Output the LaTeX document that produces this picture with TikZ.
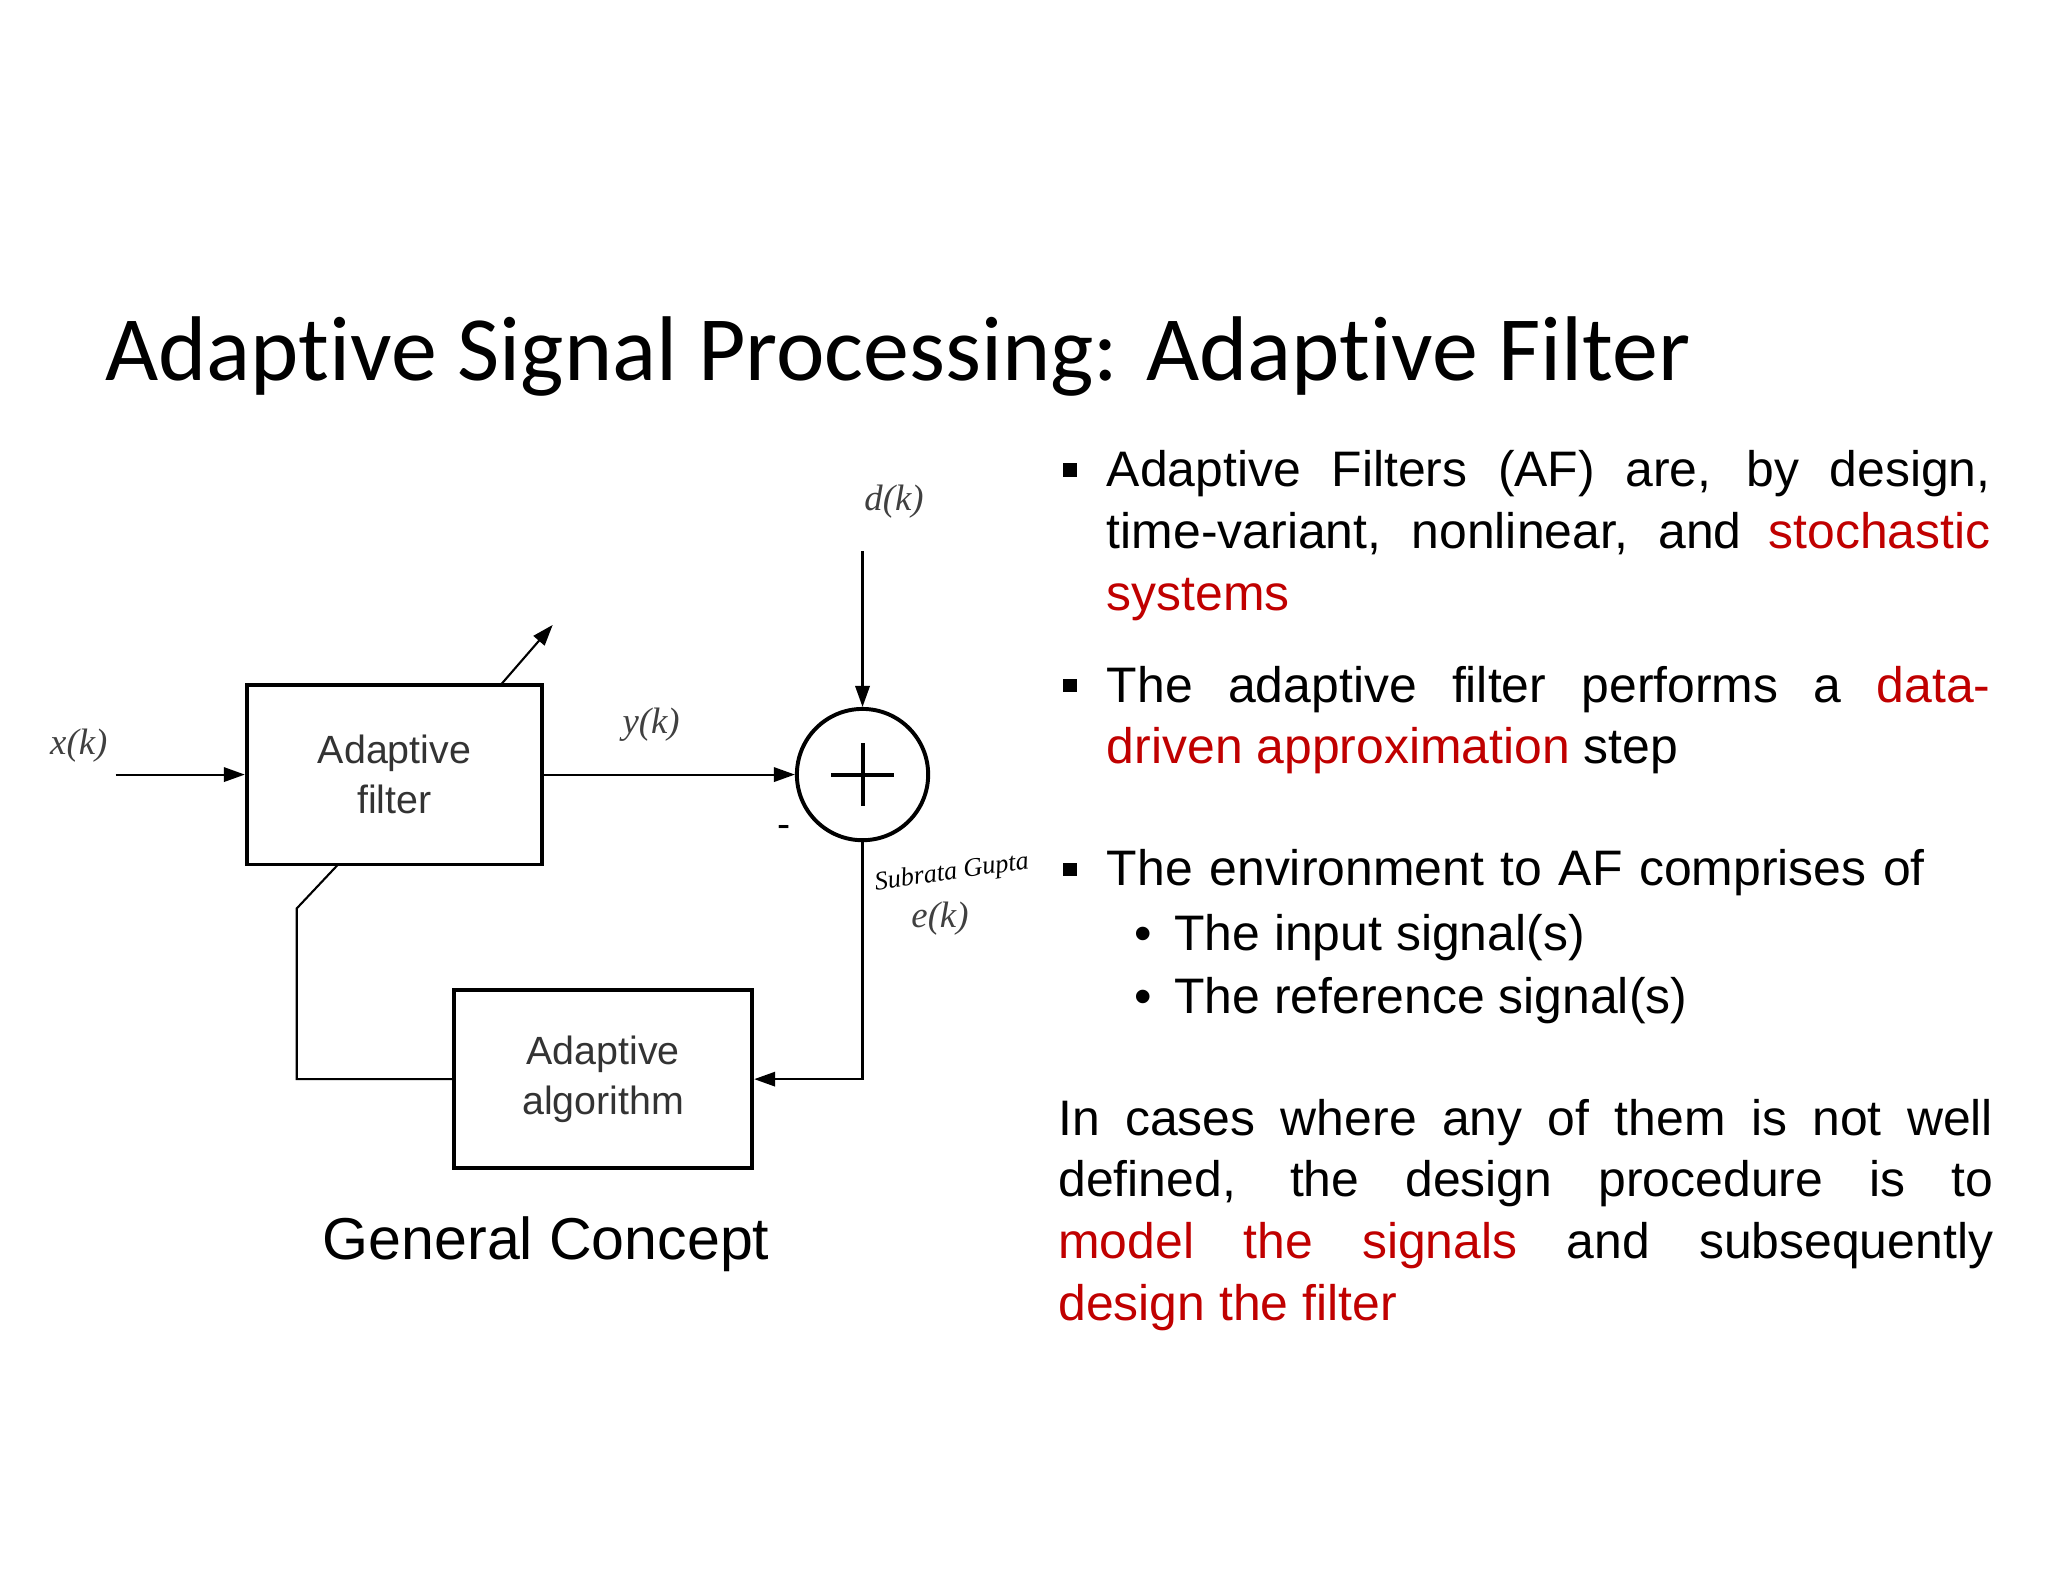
\documentclass[tikz,border=0pt]{standalone}
\usepackage{fontspec}
\setmainfont{Liberation Sans}
\newfontfamily\titlefont[Ligatures=NoCommon]{Carlito}
\newfontfamily\serifm{Liberation Serif}
\usetikzlibrary{arrows.meta,calc}
\definecolor{hl}{RGB}{192,0,0}
\begin{document}
\begin{tikzpicture}[x=1pt,y=-1pt,
  blk/.style={draw,line width=3pt,inner sep=0,align=center,font=\fontsize{30}{38}\selectfont,text=black!80},
  con/.style={line width=1.6pt,-{Triangle[length=16pt,width=11pt]}},
  ln/.style={line width=1.6pt},
  lab/.style={font=\serifm\itshape\fontsize{28}{32}\selectfont,text=black!75},
  txt/.style={anchor=north west,inner sep=0,text width=673pt,align=justify,font=\fontsize{38}{47}\selectfont,execute at begin node={\hyphenpenalty=10000 }},
  sq/.style={fill=black,minimum size=10pt,inner sep=0}]
\useasboundingbox (0,0) rectangle (1560,1205);
\node[anchor=base west,inner sep=0,font=\titlefont\fontsize{70}{74}\selectfont] (title) at (80,290) {Adaptive Signal Processing: Adaptive Filter};
% diagram
\node[blk,minimum width=225pt,minimum height=137pt] (af) at (300.5,590) {Adaptive\\filter};
\node[blk,minimum width=227pt,minimum height=136pt] (aa) at (459.5,822) {Adaptive\\algorithm};
\node[draw,circle,line width=3pt,minimum size=100pt,inner sep=0] (sum) at (657,590) {};
\draw[line width=3pt] ($(sum.center)+(-24,0)$) -- ++(48,0) ($(sum.center)+(0,-24)$) -- ++(0,48);
\node[lab] (xk) at (60,568) {x(k)};
\node[lab] (yk) at (496,552) {y(k)};
\node[lab] (dk) at (681,382) {d(k)};
\node[lab] (ek) at (716,700) {e(k)};
\node[font=\fontsize{30}{30}\selectfont] (minus) at (597,633) {-};
\coordinate (xs) at (88,590);
\coordinate (ds) at (657,420);
\coordinate (c1) at (657,822);
\coordinate (c2) at (226,822);
\coordinate (c3) at (226,692);
\coordinate (c4) at (258,658);
\coordinate (t1) at (382,521);
\coordinate (t2) at (421,476);
\draw[con] (xs) -- (af.west);
\draw[con] (af.east) -- (sum.west);
\draw[con] (ds) -- (sum.north);
\draw[con] (sum.south) -- (c1) -- (aa.east);
\draw[ln] (aa.west) -- (c2) -- (c3) -- (c4);
\draw[con] (t1) -- (t2);
\node[font=\fontsize{45}{52}\selectfont] (gc) at (416,948) {General Concept};
\node[font=\serifm\itshape\fontsize{20}{24}\selectfont,rotate=8] (sig) at (725,665) {Subrata Gupta};
% right text
\node[sq] (b1) at (815,358) {};
\node[txt] (t1n) at (843,343) {Adaptive Filters (AF) are, by design, time-variant, nonlinear, and \textcolor{hl}{stochastic systems}};
\node[sq] (b2) at (815,522) {};
\node[txt] (t2n) at (843,507) {The adaptive filter performs a \textcolor{hl}{data-driven approximation} step};
\node[sq] (b3) at (815,662) {};
\node[txt,align=left] (t3n) at (843,647) {The environment to AF comprises of};
\node[anchor=base west,inner sep=0,font=\fontsize{38}{47}\selectfont] (s1) at (864,724) {\textbullet\hspace{17pt}The input signal(s)};
\node[anchor=base west,inner sep=0,font=\fontsize{38}{47}\selectfont] (s2) at (864,772) {\textbullet\hspace{17pt}The reference signal(s)};
\node[txt,text width=712pt] (p) at (806,837) {In cases where any of them is not well\linebreak defined, the design procedure is to\linebreak \textcolor{hl}{model the signals} and subsequently\linebreak \textcolor{hl}{design the filter}};
\end{tikzpicture}
\end{document}
